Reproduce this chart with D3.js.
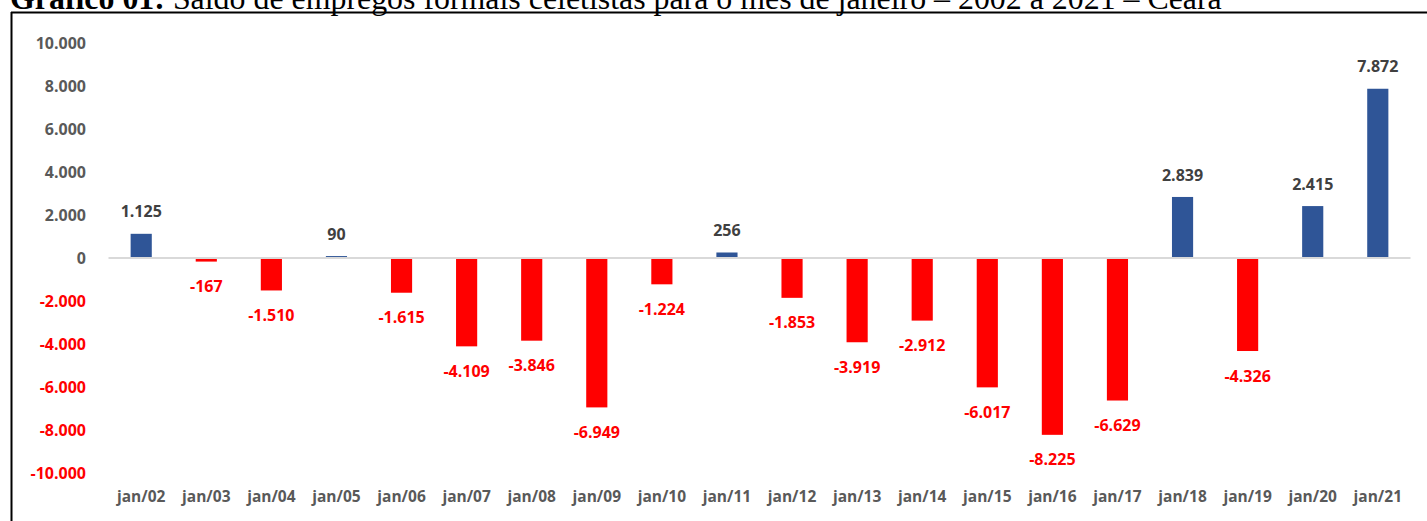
<!DOCTYPE html>
<html>
<head>
<meta charset="utf-8">
<script src="https://cdn.jsdelivr.net/npm/d3@7"></script>
<style>
  html, body { margin: 0; padding: 0; background: #fff; overflow: hidden; }
  svg { display: block; }
</style>
</head>
<body>
<svg id="chart" width="1427" height="521"></svg>
<script>
const categories = ["jan/02","jan/03","jan/04","jan/05","jan/06","jan/07","jan/08","jan/09","jan/10","jan/11","jan/12","jan/13","jan/14","jan/15","jan/16","jan/17","jan/18","jan/19","jan/20","jan/21"];
const values = [1125, -167, -1510, 90, -1615, -4109, -3846, -6949, -1224, 256, -1853, -3919, -2912, -6017, -8225, -6629, 2839, -4326, 2415, 7872];
const yTicks = [10000, 8000, 6000, 4000, 2000, 0, -2000, -4000, -6000, -8000, -10000];
const titleBold = "Gráfico 01:";
const titleRest = " Saldo de empregos formais celetistas para o mês de janeiro – 2002 a 2021 – Ceará";

const svg = d3.select("#chart");
const W = 1427, H = 521;
const font = "'Open Sans', sans-serif";
const fmt = v => (v < 0 ? "-" : "") + d3.format(",")(Math.abs(v)).replace(/,/g, ".");

// Title (cropped at top, as in the reference)
const title = svg.append("text")
  .attr("x", 10).attr("y", 9)
  .attr("font-family", "'Liberation Serif', 'Times New Roman', serif")
  .attr("font-size", 23)
  .attr("fill", "#000");
title.append("tspan").attr("font-weight", "bold").text(titleBold);
title.append("tspan").text(titleRest);
const tw = title.node().getComputedTextLength();
title.attr("font-size", 23 * 1212 / tw);

// Frame lines
svg.append("line").attr("x1", 11).attr("x2", W).attr("y1", 12.5).attr("y2", 12.5)
  .attr("stroke", "#000").attr("stroke-width", 2);
svg.append("line").attr("x1", 11.5).attr("x2", 11.5).attr("y1", 12).attr("y2", H)
  .attr("stroke", "#000").attr("stroke-width", 2);

const x = d3.scaleBand().domain(categories).range([108.5, 1410.5]).paddingInner(0.675).paddingOuter(0.34);
const y = d3.scaleLinear().domain([-10000, 10000]).range([473, 43]);

// Y axis labels
const yAxis = d3.axisLeft(y).tickValues(yTicks).tickSize(0).tickPadding(0).tickFormat(fmt);
const yg = svg.append("g").attr("transform", "translate(86,0)").call(yAxis);
yg.select(".domain").remove();
yg.selectAll("text")
  .attr("font-family", font).attr("font-weight", "bold").attr("font-size", 16)
  .attr("fill", d => d < 0 ? "#FF0000" : "#595959");

// zero line
svg.append("line")
  .attr("x1", 108.5).attr("x2", 1410.5)
  .attr("y1", y(0)).attr("y2", y(0))
  .attr("stroke", "#D9D9D9").attr("stroke-width", 2);

// bars
svg.append("g").selectAll("rect").data(values).join("rect")
  .attr("x", (d, i) => x(categories[i]))
  .attr("width", x.bandwidth())
  .attr("y", d => d >= 0 ? y(d) : y(0) + 1)
  .attr("height", d => d >= 0 ? y(0) - 1 - y(d) : y(d) - y(0) - 1)
  .attr("fill", d => d >= 0 ? "#2F5597" : "#FF0000");

// data labels
svg.append("g").selectAll("text").data(values).join("text")
  .attr("x", (d, i) => x(categories[i]) + x.bandwidth() / 2)
  .attr("y", d => d >= 0 ? y(d) - 22 : y(d) + 25)
  .attr("dy", "0.35em")
  .attr("text-anchor", "middle")
  .attr("font-family", font).attr("font-weight", "bold").attr("font-size", 16)
  .attr("fill", d => d >= 0 ? "#404040" : "#FF0000")
  .text(fmt);

// X axis labels
const xAxis = d3.axisBottom(x).tickSize(0).tickPadding(0);
const xg = svg.append("g").attr("transform", "translate(0,497)").call(xAxis);
xg.select(".domain").remove();
xg.selectAll("text")
  .attr("dy", "0.35em")
  .attr("font-family", font).attr("font-weight", "bold").attr("font-size", 15.5)
  .attr("fill", "#595959");
</script>
</body>
</html>
